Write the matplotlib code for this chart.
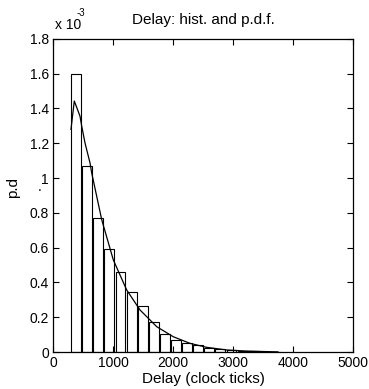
import matplotlib
matplotlib.use("Agg")
import matplotlib.pyplot as plt
from matplotlib.ticker import FuncFormatter

plt.rcParams['font.family'] = ['Liberation Sans', 'DejaVu Sans']

# histogram (values in units of 1e-3)
bin_centers = [385 + 185 * k for k in range(19)]
bin_heights = [1.60, 1.07, 0.77, 0.59, 0.46, 0.345, 0.265, 0.17, 0.105, 0.072,
               0.05, 0.038, 0.025, 0.016, 0.01, 0.006, 0.004, 0.002, 0.001]
bin_width = 165

# p.d.f. curve (units of 1e-3)
pdf_x = [300, 355, 450, 478, 533, 617, 645, 812, 1005, 1228, 1450, 1728,
         2005, 2283, 2562, 2895, 3200, 3500, 3750]
pdf_y = [1.28, 1.443, 1.356, 1.30, 1.203, 1.087, 1.03, 0.761, 0.53, 0.357,
         0.242, 0.146, 0.088, 0.05, 0.027, 0.012, 0.006, 0.003, 0.001]

fig = plt.figure(figsize=(3.69, 3.89), dpi=100)
ax = fig.add_axes([0.1436, 0.095, 0.8130, 0.805])

ax.bar(bin_centers, bin_heights, width=bin_width, color='white',
       edgecolor='black', linewidth=0.8)
ax.plot(pdf_x, pdf_y, color='black', linewidth=0.9)

ax.set_xlim(0, 5000)
ax.set_ylim(0, 1.8)
ax.set_xticks(range(0, 5001, 1000))
ax.set_yticks([i * 0.2 for i in range(10)])
ax.yaxis.set_major_formatter(FuncFormatter(lambda v, p: '%g' % round(v, 3)))
ax.tick_params(direction='in', top=True, right=True, labelsize=10,
               length=4, width=0.8, pad=3)
for s in ax.spines.values():
    s.set_linewidth(0.9)

ax.set_title('Delay: hist. and p.d.f.', fontsize=11, pad=11)
ax.set_xlabel('Delay (clock ticks)', fontsize=11, labelpad=1)
ax.set_ylabel('p.d', fontsize=11)
ax.yaxis.set_label_coords(-0.11, 0.527)
fig.text(0.108, 0.519, '.', fontsize=10, ha='center', va='center')
fig.text(0.149, 0.935, 'x 10', fontsize=10, ha='left', va='center')
fig.text(0.208, 0.966, '-3', fontsize=7, ha='left', va='center')

fig.savefig('out.png', dpi=100)
